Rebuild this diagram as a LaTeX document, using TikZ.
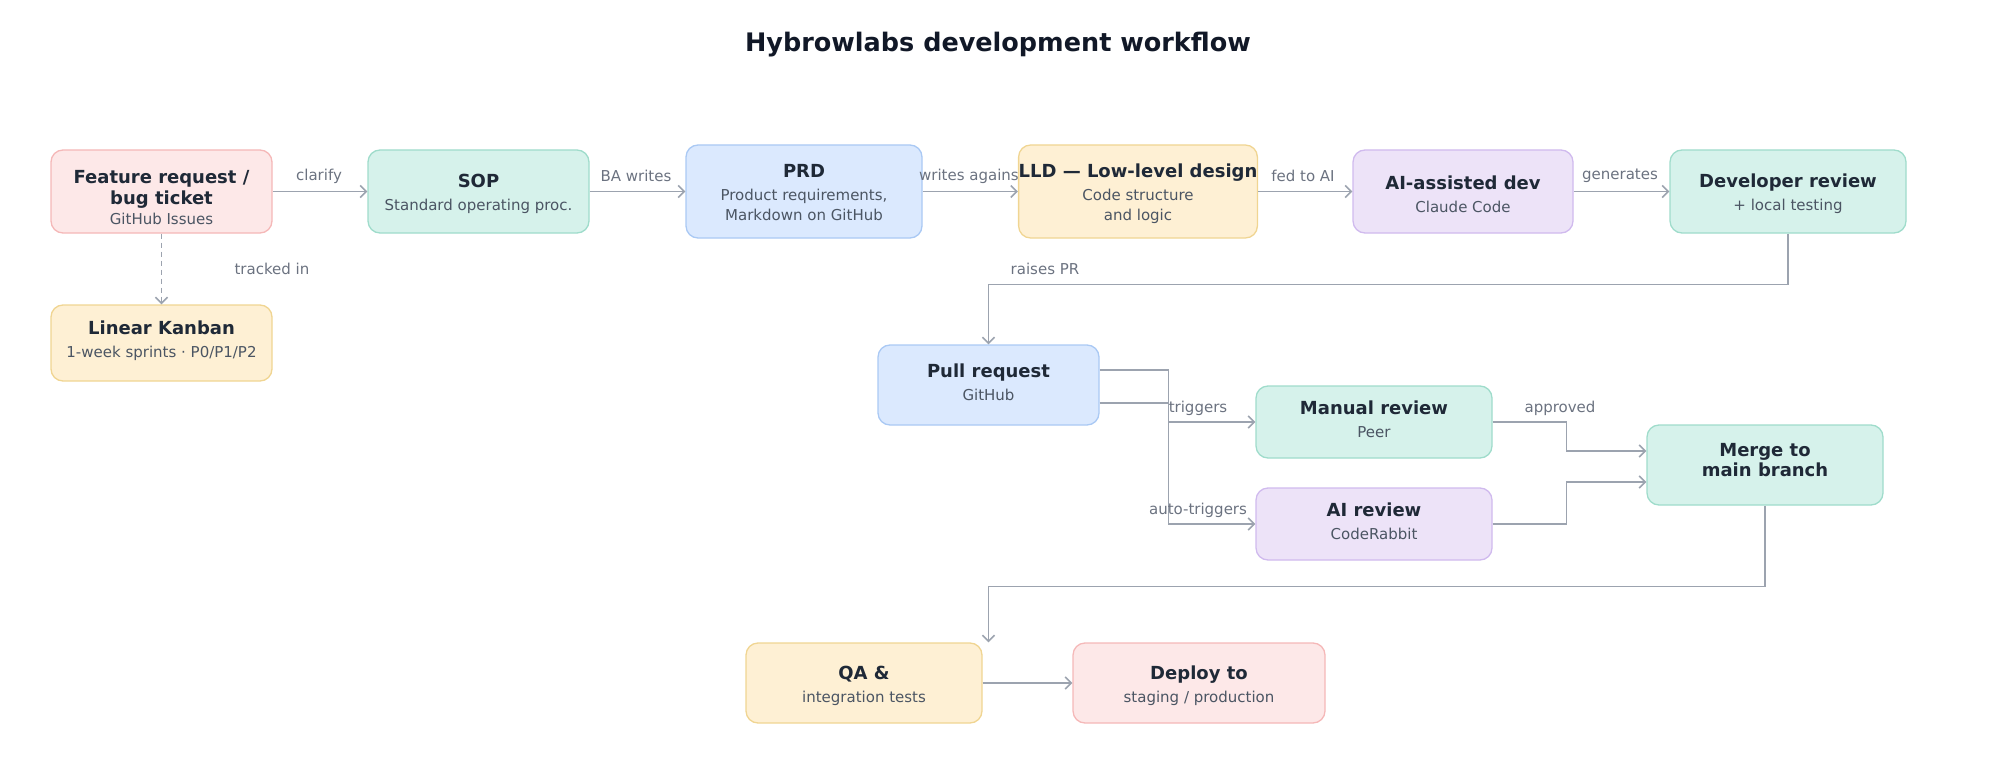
\documentclass[tikz,border=0pt]{standalone}
\usepackage{fontspec}
\setmainfont{DejaVu Sans}
\usetikzlibrary{arrows.meta,calc}
\definecolor{pinkF}{HTML}{FDE8E8}\definecolor{pinkD}{HTML}{F5B8B8}
\definecolor{tealF}{HTML}{D6F2EB}\definecolor{tealD}{HTML}{9FDCCB}
\definecolor{blueF}{HTML}{DBE9FE}\definecolor{blueD}{HTML}{AAC9F4}
\definecolor{yelF}{HTML}{FEF0D4}\definecolor{yelD}{HTML}{F0D592}
\definecolor{purF}{HTML}{EDE3F8}\definecolor{purD}{HTML}{D0BAEE}
\definecolor{titleC}{HTML}{111827}
\definecolor{nodeC}{HTML}{1F2937}
\definecolor{subC}{HTML}{4B5563}
\definecolor{labC}{HTML}{6B7280}
\definecolor{lineC}{HTML}{9CA3AF}
\def\dy{0pt}
\newcommand{\nt}[1]{\raisebox{\dy}[\height][\depth]{\fontsize{18}{22}\selectfont\bfseries\color{nodeC}#1}}
\newcommand{\ns}[1]{\raisebox{\dy}[\height][\depth]{\color{subC}#1}}
\begin{document}
\begin{tikzpicture}[x=1pt,y=-1pt,
  box/.style={draw, rounded corners=12pt, line width=1.3pt, align=center, inner sep=0pt,
    font=\fontsize{15}{20}\selectfont},
  tshift/.style={execute at begin node={\def\dy{#1}}},
  pinkbox/.style={box, fill=pinkF, draw=pinkD},
  tealbox/.style={box, fill=tealF, draw=tealD},
  bluebox/.style={box, fill=blueF, draw=blueD},
  yelbox/.style={box, fill=yelF, draw=yelD},
  purbox/.style={box, fill=purF, draw=purD},
  conn/.style={draw=lineC, line width=1.6pt, -{Straight Barb[length=6pt,width=12pt,line width=1.6pt]}},
  lab/.style={text=labC, font=\fontsize{15}{18}\selectfont, inner sep=0pt}
]
\useasboundingbox (0,0) rectangle (1999,770);
\node[font=\fontsize{25.5}{30}\selectfont\bfseries, text=titleC] (title) at (998,44.5) {Hybrowlabs development workflow};

\node[pinkbox, tshift=-6pt, minimum width=221pt, minimum height=83pt] (feat) at (161.5,191.5) {\nt{Feature request /}\\[1pt]\nt{bug ticket}\\\ns{GitHub Issues}};
\node[tealbox, tshift=-2.5pt, minimum width=221pt, minimum height=83pt] (sop) at (478.5,191.5) {\nt{SOP}\\[3pt]\ns{Standard operating proc.}};
\node[bluebox, tshift=-1pt, minimum width=236pt, minimum height=93pt] (prd) at (804,191.5) {\nt{PRD}\\[3pt]\ns{Product requirements,}\\\ns{Markdown on GitHub}};
\node[yelbox, tshift=-2pt, minimum width=236pt, minimum height=93pt] (lld) at (1138,191.5) {\nt{LLD — Low-level design}\\[3pt]\ns{Code structure}\\\ns{and logic}};
\node[purbox, tshift=-2.5pt, minimum width=220pt, minimum height=83pt] (aidev) at (1463,191.5) {\nt{AI-assisted dev}\\[3pt]\ns{Claude Code}};
\node[tealbox, tshift=-2.5pt, minimum width=236pt, minimum height=83pt] (devrev) at (1788,191.5) {\nt{Developer review}\\[3pt]\ns{+ local testing}};
\node[yelbox, tshift=2.5pt, minimum width=221pt, minimum height=76pt] (kanban) at (161.5,343) {\nt{Linear Kanban}\\[3pt]\ns{1-week sprints · P0/P1/P2}};
\node[bluebox, tshift=3pt, minimum width=221pt, minimum height=80pt] (pr) at (988.5,385) {\nt{Pull request}\\[3pt]\ns{GitHub}};
\node[tealbox, tshift=2.5pt, minimum width=236pt, minimum height=72pt] (manual) at (1374,422) {\nt{Manual review}\\[3pt]\ns{Peer}};
\node[purbox, tshift=2.5pt, minimum width=236pt, minimum height=72pt] (airev) at (1374,524) {\nt{AI review}\\[3pt]\ns{CodeRabbit}};
\node[tealbox, tshift=5pt, minimum width=236pt, minimum height=80pt] (merge) at (1765,465) {\nt{Merge to}\\\nt{main branch}};
\node[yelbox, tshift=-2.5pt, minimum width=236pt, minimum height=80pt] (qa) at (864,683) {\nt{QA \&}\\[3pt]\ns{integration tests}};
\node[pinkbox, tshift=-2.5pt, minimum width=252pt, minimum height=80pt] (deploy) at (1199,683) {\nt{Deploy to}\\[3pt]\ns{staging / production}};

\draw[conn] (feat) -- (sop);
\draw[conn] (sop) -- (prd);
\draw[conn] (prd) -- (lld);
\draw[conn] (lld) -- (aidev);
\draw[conn] (aidev) -- (devrev);
\draw[conn, dash pattern=on 5pt off 4pt] (feat) -- (kanban);
\draw[conn] (devrev.south) -- ++(0,51) -| (pr.north);
\draw[conn] ([yshift=15pt]pr.east) -- ++(69,0) |- (airev.west);
\draw[conn] ([yshift=-18pt]pr.east) -- ++(69,0) |- (manual.west);
\draw[conn] (manual.east) -- ++(74,0) |- ([yshift=14pt]merge.west);
\draw[conn] (airev.east) -- ++(74,0) |- ([yshift=-17pt]merge.west);
\draw[conn] (merge.south) -- ++(0,81) -| (pr.south |- qa.north);
\draw[conn] (qa) -- (deploy);

\node[lab] (l1) at (319,176) {clarify};
\node[lab] (l2) at (636,176) {BA writes};
\node[lab, anchor=east] (l3) at (1019,176) {writes agains};
\node[lab] (l4) at (1303,176) {fed to AI};
\node[lab] (l5) at (1620,176) {generates};
\node[lab] (l6) at (272,269) {tracked in};
\node[lab] (l7) at (1045,269) {raises PR};
\node[lab] (l8) at (1198,408) {triggers};
\node[lab] (l9) at (1198,510) {auto-triggers};
\node[lab] (l10) at (1560,408) {approved};
\end{tikzpicture}
\end{document}
